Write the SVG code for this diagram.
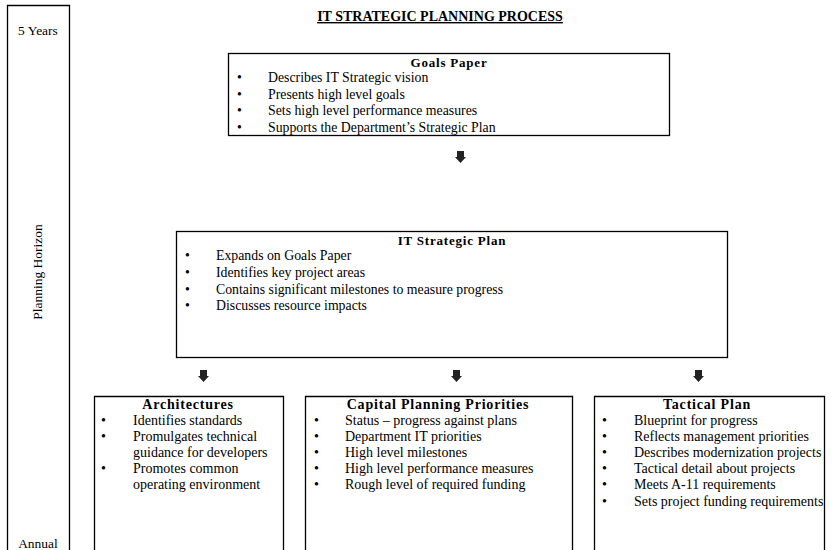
<svg xmlns="http://www.w3.org/2000/svg" width="835" height="550" viewBox="0 0 835 550">
<style>
text{font-family:"Liberation Serif","Times New Roman",serif;fill:#000}
.box{fill:#fff;stroke:#000;stroke-width:1.3}
.t{font-size:13px;font-weight:bold;letter-spacing:0.8px;text-anchor:middle}
.b{font-size:13.8px}
.s{font-size:14px}
.bs{font-size:14px;font-weight:bold;letter-spacing:0.8px;text-anchor:middle}
.lbl{font-size:13.5px;text-anchor:middle}
.arr{fill:#222;stroke:none}
</style>
<rect width="835" height="550" fill="#fff"/>
<g id="axis">
<path d="M7.5,560 V5.5 H69.5 V560" fill="none" stroke="#000" stroke-width="1.3"/>
<text class="lbl" x="38" y="35">5 Years</text>
<text class="lbl" x="0" y="0" transform="translate(42,272) rotate(-90)">Planning Horizon</text>
<text class="lbl" x="38" y="548">Annual</text>
</g>
<g id="title">
<text x="440" y="21" style="font-size:14px;font-weight:bold;text-anchor:middle;text-decoration:underline">IT STRATEGIC PLANNING PROCESS</text>
</g>
<g id="goals">
<rect class="box" x="228.5" y="53.5" width="441" height="82"/>
<text class="t" x="449" y="67">Goals Paper</text>
<text class="b" x="237" y="82">•</text><text class="b" x="268" y="82">Describes IT Strategic vision</text>
<text class="b" x="237" y="99">•</text><text class="b" x="268" y="99">Presents high level goals</text>
<text class="b" x="237" y="115">•</text><text class="b" x="268" y="115">Sets high level performance measures</text>
<text class="b" x="237" y="132">•</text><text class="b" x="268" y="132">Supports the Department’s Strategic Plan</text>
</g>
<g id="strategic">
<rect class="box" x="176.5" y="231.5" width="551" height="126"/>
<text class="t" x="452" y="245">IT Strategic Plan</text>
<text class="b" x="185" y="260">•</text><text class="b" x="216" y="260">Expands on Goals Paper</text>
<text class="b" x="185" y="277">•</text><text class="b" x="216" y="277">Identifies key project areas</text>
<text class="b" x="185" y="294">•</text><text class="b" x="216" y="294">Contains significant milestones to measure progress</text>
<text class="b" x="185" y="310">•</text><text class="b" x="216" y="310">Discusses resource impacts</text>
</g>
<g id="architectures">
<path class="box" d="M94.5,560 V396.5 H283.5 V560"/>
<text class="bs" x="188" y="409">Architectures</text>
<text class="s" x="101" y="425">•</text><text class="s" x="133" y="425">Identifies standards</text>
<text class="s" x="101" y="441">•</text><text class="s" x="133" y="441">Promulgates technical</text>
<text class="s" x="133" y="457">guidance for developers</text>
<text class="s" x="101" y="473">•</text><text class="s" x="133" y="473">Promotes common</text>
<text class="s" x="133" y="489">operating environment</text>
</g>
<g id="capital">
<path class="box" d="M305.5,560 V396.5 H572.5 V560"/>
<text class="bs" x="438" y="409">Capital Planning Priorities</text>
<text class="s" x="314" y="425">•</text><text class="s" x="345" y="425">Status – progress against plans</text>
<text class="s" x="314" y="441">•</text><text class="s" x="345" y="441">Department IT priorities</text>
<text class="s" x="314" y="457">•</text><text class="s" x="345" y="457">High level milestones</text>
<text class="s" x="314" y="473">•</text><text class="s" x="345" y="473">High level performance measures</text>
<text class="s" x="314" y="489">•</text><text class="s" x="345" y="489">Rough level of required funding</text>
</g>
<g id="tactical">
<path class="box" d="M594.5,560 V396.5 H824.5 V560"/>
<text class="bs" x="707" y="409">Tactical Plan</text>
<text class="s" x="602" y="425">•</text><text class="s" x="634" y="425">Blueprint for progress</text>
<text class="s" x="602" y="441">•</text><text class="s" x="634" y="441">Reflects management priorities</text>
<text class="s" x="602" y="457">•</text><text class="s" x="634" y="457">Describes modernization projects</text>
<text class="s" x="602" y="473">•</text><text class="s" x="634" y="473">Tactical detail about projects</text>
<text class="s" x="602" y="489">•</text><text class="s" x="634" y="489">Meets A-11 requirements</text>
<text class="s" x="602" y="506">•</text><text class="s" x="634" y="506">Sets project funding requirements</text>
</g>
<g id="connectors">
<path class="arr" d="M457,151 h7 v6 h2 l-5.5,6 l-5.5,-6 h2 z"/>
<path class="arr" d="M200,370 h7 v6 h2 l-5.5,6 l-5.5,-6 h2 z"/>
<path class="arr" d="M453,370 h7 v6 h2 l-5.5,6 l-5.5,-6 h2 z"/>
<path class="arr" d="M695,370 h7 v6 h2 l-5.5,6 l-5.5,-6 h2 z"/>
</g>
</svg>
